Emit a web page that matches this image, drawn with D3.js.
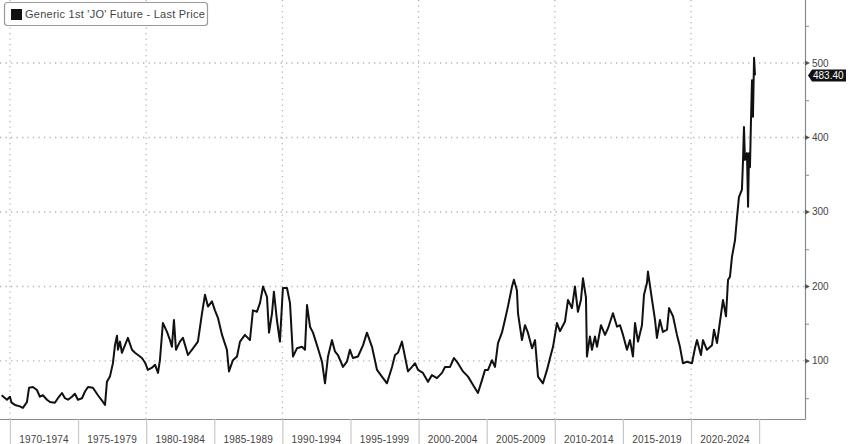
<!DOCTYPE html>
<html><head><meta charset="utf-8">
<script src="https://cdn.jsdelivr.net/npm/d3@7"></script>
<style>
html,body{margin:0;padding:0;background:#fff;}
svg{display:block;font-family:"Liberation Sans",Arial,sans-serif;}
</style></head>
<body>
<svg id="chart" width="848" height="444"></svg>
<script>
const title = "Generic 1st 'JO' Future - Last Price";
const periodLabels = ["1970-1974","1975-1979","1980-1984","1985-1989","1990-1994","1995-1999","2000-2004","2005-2009","2010-2014","2015-2019","2020-2024"];
const periodStarts = [1970,1975,1980,1985,1990,1995,2000,2005,2010,2015,2020];
const yTicks = [100,200,300,400,500];
const lastPrice = 483.40;

const years = [
1969.39,1969.78,1970.00,1970.12,1970.37,1970.73,1970.95,1971.25,1971.40,1971.69,1971.98,1972.20,1972.42,1972.72,1972.94,1973.30,1973.52,1973.82,1974.04,1974.26,1974.55,1974.77,1974.99,
1975.29,1975.51,1975.73,1976.09,1976.46,1976.83,1976.98,1977.12,1977.34,1977.56,1977.71,1977.86,1977.93,1978.08,1978.22,1978.44,1978.66,1978.96,1979.18,1979.40,1979.69,1979.91,
1980.13,1980.43,1980.65,1980.87,1981.01,1981.23,1981.53,1981.75,1981.89,1982.04,1982.19,1982.48,1982.70,1983.07,1983.44,1983.80,1984.10,1984.32,1984.54,1984.83,
1985.05,1985.27,1985.57,1985.93,1986.08,1986.37,1986.67,1986.89,1987.25,1987.62,1987.84,1988.13,1988.36,1988.58,1988.87,1989.02,1989.24,1989.38,1989.60,1989.82,
1990.04,1990.34,1990.56,1990.78,1991.07,1991.44,1991.66,1991.81,1992.03,1992.25,1992.61,1992.91,1993.13,1993.35,1993.64,1993.86,1994.08,1994.45,1994.74,1994.96,
1995.18,1995.55,1995.92,1996.21,1996.58,1996.95,1997.31,1997.68,1998.05,1998.27,1998.49,1998.78,1999.00,1999.22,1999.52,1999.74,1999.96,
2000.32,2000.69,2000.98,2001.35,2001.72,2001.94,2002.31,2002.60,2002.89,2003.26,2003.63,2003.99,2004.36,2004.65,2004.88,
2005.10,2005.39,2005.61,2005.83,2006.12,2006.34,2006.56,2006.86,2007.00,2007.22,2007.30,2007.59,2007.81,2008.03,2008.33,2008.55,2008.77,2009.13,2009.43,2009.65,2009.87,
2010.16,2010.38,2010.75,2010.97,2011.26,2011.48,2011.70,2011.92,2012.07,2012.29,2012.36,2012.58,2012.73,2012.95,2013.10,2013.39,2013.69,2013.91,2014.27,2014.57,2014.79,
2015.01,2015.30,2015.52,2015.74,2015.89,2016.11,2016.40,2016.55,2016.77,2016.84,2017.14,2017.36,2017.50,2017.72,2017.94,2018.24,2018.39,2018.68,2018.97,2019.19,2019.41,2019.71,
2020.07,2020.29,2020.44,2020.73,2020.88,2021.17,2021.54,2021.69,2021.91,2022.13,2022.35,2022.57,2022.72,2022.86,2023.01,2023.23,2023.38,2023.52,2023.74,2023.82,2023.89,2023.96,
2024.11,2024.19,2024.26,2024.33,2024.41,2024.48,2024.55,2024.63,2024.70
];
const prices = [
54,48,52,44,41,39,37,45,64,65,61,52,54,48,45,44,50,57,50,48,52,56,48,
50,59,65,64,54,45,41,72,79,97,121,134,115,126,111,121,131,115,111,108,104,98,
88,91,95,84,101,151,139,128,119,155,115,126,131,108,117,126,164,189,173,180,
168,158,135,115,86,101,106,126,135,128,168,166,178,200,186,138,164,193,155,126,
198,198,178,106,117,119,115,175,146,138,117,99,70,106,128,113,108,92,99,115,
104,106,121,138,119,88,79,70,92,108,111,126,106,86,92,97,88,
84,72,81,77,84,92,92,104,97,86,79,68,57,74,88,
88,101,92,124,138,155,173,200,209,195,164,128,148,138,117,128,79,70,88,104,119,
151,140,153,182,171,200,166,182,211,185,106,133,115,133,119,148,135,144,164,146,148,
135,115,128,106,151,126,148,189,205,220,182,155,131,155,139,142,171,160,135,119,97,99,
97,117,128,108,128,115,121,142,124,153,182,160,209,213,240,262,293,320,330,370,414,370,
379,307,379,360,428,477,428,507,483.4
];

const W = 848, H = 444;
const plotRight = 805, plotBottom = 419;
const svg = d3.select("#chart");

const x = d3.scaleLinear().domain([1969.27, 2028.37]).range([0, plotRight]);
const y = d3.scaleLinear().domain([22.1, 584.6]).range([plotBottom, 0]);

const data = years.map((t,i)=>({t, v: prices[i]}));

// horizontal dotted grid
svg.append("g").selectAll("line").data(yTicks).join("line")
  .attr("x1", 0).attr("x2", plotRight)
  .attr("y1", d=>y(d)).attr("y2", d=>y(d))
  .attr("stroke", "#b5b5b5").attr("stroke-width", 1.3).attr("stroke-dasharray", "1.3,4.2");

// vertical dotted grid every 10 years
const decades = [1970,1980,1990,2000,2010,2020];
svg.append("g").selectAll("line").data(decades).join("line")
  .attr("x1", d=>x(d)).attr("x2", d=>x(d))
  .attr("y1", 0).attr("y2", plotBottom)
  .attr("stroke", "#b5b5b5").attr("stroke-width", 1.3).attr("stroke-dasharray", "1.3,4.2");

// axes frame
svg.append("line").attr("x1",0).attr("x2",plotRight+0.5).attr("y1",plotBottom+0.5).attr("y2",plotBottom+0.5)
  .attr("stroke","#8a8a8a").attr("stroke-width",1.2);
svg.append("line").attr("x1",plotRight+0.5).attr("x2",plotRight+0.5).attr("y1",0).attr("y2",plotBottom+0.5)
  .attr("stroke","#8a8a8a").attr("stroke-width",1.2);

// right axis ticks
const minor = d3.range(50, 600, 50).filter(d=>!yTicks.includes(d) && d>y.domain()[0] && d<y.domain()[1]);
svg.append("g").selectAll("line").data(minor).join("line")
  .attr("x1", plotRight).attr("x2", plotRight+4)
  .attr("y1", d=>y(d)+0.5).attr("y2", d=>y(d)+0.5)
  .attr("stroke","#8a8a8a").attr("stroke-width",1);
svg.append("g").selectAll("path").data(yTicks).join("path")
  .attr("d", d=>`M${plotRight},${y(d)-2.5}L${plotRight+5},${y(d)}L${plotRight},${y(d)+2.5}Z`)
  .attr("fill","#555");
svg.append("g").selectAll("text").data(yTicks).join("text")
  .attr("x", plotRight+7).attr("y", d=>y(d)).attr("dy","0.35em")
  .attr("font-size", 10).attr("fill","#444").text(d=>d);

// bottom separators and labels
const seps = periodStarts.concat([2025]);
svg.append("g").selectAll("line").data(seps).join("line")
  .attr("x1", d=>x(d)+0.5).attr("x2", d=>x(d)+0.5)
  .attr("y1", plotBottom).attr("y2", H)
  .attr("stroke","#c8c8c8").attr("stroke-width",1.2);
svg.append("g").selectAll("text").data(periodLabels).join("text")
  .attr("x", (d,i)=>x(periodStarts[i]+2.5)).attr("y", 442.5)
  .attr("text-anchor","middle").attr("font-size", 10).attr("letter-spacing", 0.2).attr("fill","#444").text(d=>d);

// line
svg.append("path").datum(data)
  .attr("d", d3.line().x(d=>x(d.t)).y(d=>y(d.v)))
  .attr("fill","none").attr("stroke","#111").attr("stroke-width",2).attr("stroke-linejoin","round");

// last price tag
const ly = y(lastPrice);
svg.append("path")
  .attr("d", `M${plotRight+3},${ly}L${plotRight+7},${ly-6}L${W-2},${ly-6}L${W-2},${ly+6}L${plotRight+7},${ly+6}Z`)
  .attr("fill","#111");
svg.append("text").attr("x", plotRight+8).attr("y", ly).attr("dy","0.35em")
  .attr("font-size",10).attr("fill","#fff").text(lastPrice.toFixed(2));

// legend
const lg = svg.append("g");
lg.append("rect").attr("x",4.5).attr("y",2.5).attr("width",203).attr("height",23).attr("rx",3)
  .attr("fill","#fff").attr("stroke","#9a9a9a").attr("stroke-width",1.2);
lg.append("rect").attr("x",11).attr("y",9).attr("width",11).attr("height",11).attr("fill","#111");
lg.append("text").attr("x",25).attr("y",14.5).attr("dy","0.35em").attr("font-size",11).attr("letter-spacing",0.25).attr("fill","#444").text(title);
</script>
</body></html>
